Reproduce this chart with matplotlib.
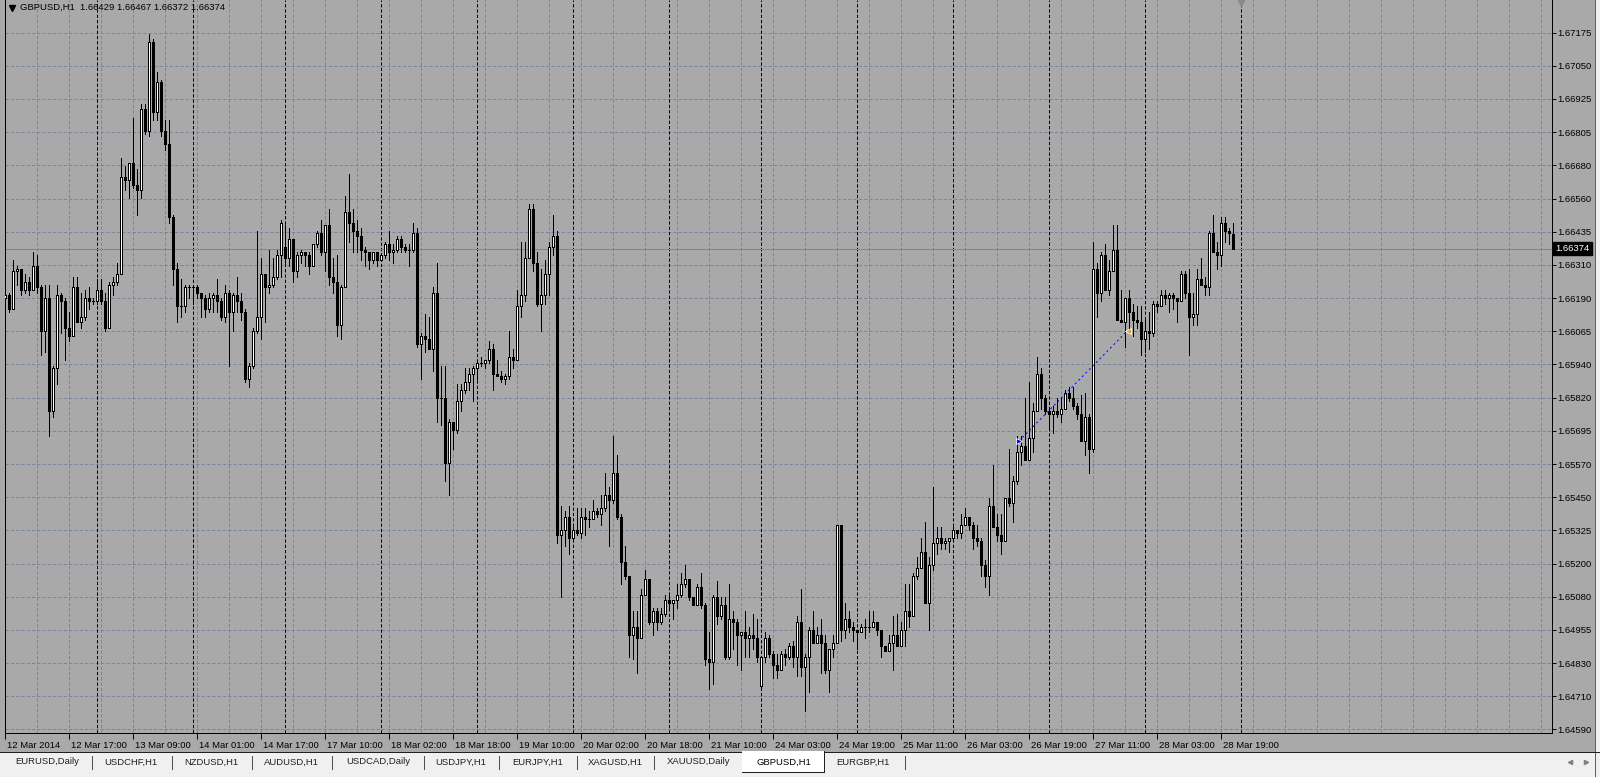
import numpy as np
import matplotlib
matplotlib.use('Agg')
import matplotlib.pyplot as plt
import matplotlib.transforms as mtransforms
from matplotlib.patches import Rectangle
from matplotlib.lines import Line2D

plt.rcParams['font.family'] = ['Liberation Sans', 'DejaVu Sans']

W, H = 1600, 777
BG = '#a9a9a9'
GRID = '#778899'
DASH = (0, (3.3, 2.0))
FS = 6.8

symbol = 'GBPUSD,H1'

# H1 bars, 12 Mar 2014 01:00 .. 28 Mar 2014 22:00
opens = [
    1.6619, 1.6620, 1.6615, 1.6629, 1.6630, 1.6622, 1.6625, 1.6622, 1.6631, 1.6623,
    1.6607, 1.6619, 1.6577, 1.6593, 1.6620, 1.6618, 1.6608, 1.6605, 1.6623, 1.6610,
    1.6612, 1.6619, 1.6618, 1.6618, 1.6622, 1.6618, 1.6608, 1.6624, 1.6625, 1.6628,
    1.6664, 1.6663, 1.6669, 1.6661, 1.6659, 1.6689, 1.6681, 1.6714, 1.6688, 1.6699,
    1.6681, 1.6676, 1.6649, 1.6630, 1.6616, 1.6616, 1.6623, 1.6623, 1.6623, 1.6621,
    1.6619, 1.6615, 1.6619, 1.6620, 1.6618, 1.6612, 1.6621, 1.6614, 1.6620, 1.6618,
    1.6614, 1.6589, 1.6594, 1.6607, 1.6612, 1.6628, 1.6623, 1.6624, 1.6627, 1.6635,
    1.6638, 1.6634, 1.6641, 1.6629, 1.6635, 1.6636, 1.6635, 1.6631, 1.6639, 1.6643,
    1.6636, 1.6646, 1.6627, 1.6625, 1.6609, 1.6623, 1.6651, 1.6647, 1.6644, 1.6642,
    1.6637, 1.6636, 1.6633, 1.6636, 1.6633, 1.6635, 1.6639, 1.6636, 1.6637, 1.6641,
    1.6638, 1.6637, 1.6637, 1.6643, 1.6602, 1.6605, 1.6604, 1.6600, 1.6621, 1.6582,
    1.6582, 1.6558, 1.6573, 1.6570, 1.6581, 1.6585, 1.6588, 1.6591, 1.6593, 1.6595,
    1.6595, 1.6596, 1.6600, 1.6591, 1.6590, 1.6589, 1.6590, 1.6597, 1.6596, 1.6616,
    1.6620, 1.6634, 1.6652, 1.6632, 1.6617, 1.6620, 1.6628, 1.6638, 1.6642, 1.6531,
    1.6533, 1.6538, 1.6530, 1.6533, 1.6532, 1.6538, 1.6537, 1.6537, 1.6540, 1.6539,
    1.6541, 1.6546, 1.6544, 1.6554, 1.6538, 1.6521, 1.6516, 1.6494, 1.6497, 1.6493,
    1.6509, 1.6515, 1.6499, 1.6503, 1.6499, 1.6502, 1.6507, 1.6506, 1.6507, 1.6509,
    1.6513, 1.6515, 1.6508, 1.6505, 1.6512, 1.6505, 1.6485, 1.6484, 1.6508, 1.6501,
    1.6505, 1.6486, 1.6500, 1.6499, 1.6494, 1.6495, 1.6493, 1.6494, 1.6493, 1.6475,
    1.6486, 1.6493, 1.6487, 1.6483, 1.6481, 1.6487, 1.6486, 1.6490, 1.6486, 1.6499,
    1.6482, 1.6486, 1.6496, 1.6491, 1.6494, 1.6491, 1.6481, 1.6489, 1.6491, 1.6535,
    1.6496, 1.6500, 1.6497, 1.6496, 1.6495, 1.6497, 1.6497, 1.6497, 1.6499, 1.6496,
    1.6490, 1.6488, 1.6491, 1.6494, 1.6490, 1.6496, 1.6503, 1.6501, 1.6516, 1.6519,
    1.6525, 1.6506, 1.6520, 1.6528, 1.6530, 1.6528, 1.6529, 1.6530, 1.6533, 1.6532,
    1.6535, 1.6538, 1.6535, 1.6530, 1.6529, 1.6520, 1.6516, 1.6542, 1.6534, 1.6531,
    1.6529, 1.6545, 1.6543, 1.6551, 1.6562, 1.6564, 1.6559, 1.6567, 1.6577, 1.6591,
    1.6582, 1.6577, 1.6576, 1.6577, 1.6576, 1.6578, 1.6584, 1.6582, 1.6579, 1.6576,
    1.6566, 1.6575, 1.6563, 1.6630, 1.6621, 1.6635, 1.6622, 1.6629, 1.6637, 1.6611,
    1.6610, 1.6619, 1.6614, 1.6611, 1.6610, 1.6604, 1.6607, 1.6606, 1.6617, 1.6616,
    1.6620, 1.6619, 1.6620, 1.6619, 1.6618, 1.6628, 1.6621, 1.6612, 1.6613, 1.6626,
    1.6624, 1.6623, 1.6643, 1.6636, 1.6635, 1.6647, 1.6644, 1.66429,
]
highs = [
    1.6621, 1.6621, 1.6633, 1.6631, 1.6630, 1.6628, 1.6627, 1.6636, 1.6635, 1.6624,
    1.6624, 1.6624, 1.6594, 1.6624, 1.6621, 1.6619, 1.6614, 1.6627, 1.6627, 1.6621,
    1.6622, 1.6623, 1.6619, 1.6626, 1.6626, 1.6621, 1.6625, 1.6627, 1.6632, 1.6671,
    1.6668, 1.6669, 1.6686, 1.6667, 1.6691, 1.6691, 1.6717, 1.6715, 1.6703, 1.6700,
    1.6685, 1.6685, 1.6650, 1.6632, 1.6626, 1.6624, 1.6624, 1.6624, 1.6624, 1.6621,
    1.6620, 1.6621, 1.6621, 1.6626, 1.6619, 1.6624, 1.6622, 1.6621, 1.6627, 1.6621,
    1.6615, 1.6595, 1.6608, 1.6644, 1.6634, 1.6628, 1.6637, 1.6634, 1.6637, 1.6648,
    1.6646, 1.6645, 1.6641, 1.6636, 1.6637, 1.6636, 1.6636, 1.6639, 1.6644, 1.6648,
    1.6646, 1.6652, 1.6634, 1.6635, 1.6624, 1.6657, 1.6665, 1.6652, 1.6648, 1.6645,
    1.6638, 1.6636, 1.6636, 1.6636, 1.6635, 1.6640, 1.6644, 1.6639, 1.6642, 1.6642,
    1.6639, 1.6639, 1.6647, 1.6645, 1.6606, 1.6613, 1.6612, 1.6623, 1.6632, 1.6594,
    1.6594, 1.6574, 1.6573, 1.6587, 1.6587, 1.6593, 1.6593, 1.6594, 1.6596, 1.6597,
    1.6596, 1.6603, 1.6602, 1.6596, 1.6592, 1.6591, 1.6607, 1.6600, 1.6622, 1.6640,
    1.6640, 1.6654, 1.6654, 1.6636, 1.6630, 1.6633, 1.6640, 1.6650, 1.6644, 1.6542,
    1.6540, 1.6542, 1.6534, 1.6541, 1.6541, 1.6541, 1.6540, 1.6544, 1.6541, 1.6546,
    1.6554, 1.6549, 1.6568, 1.6561, 1.6539, 1.6527, 1.6516, 1.6503, 1.6503, 1.6511,
    1.6518, 1.6515, 1.6504, 1.6504, 1.6504, 1.6509, 1.6509, 1.6507, 1.6513, 1.6517,
    1.6520, 1.6515, 1.6508, 1.6513, 1.6517, 1.6506, 1.6495, 1.6509, 1.6514, 1.6508,
    1.6508, 1.6513, 1.6503, 1.6500, 1.6495, 1.6503, 1.6497, 1.6502, 1.6500, 1.6486,
    1.6495, 1.6494, 1.6488, 1.6487, 1.6488, 1.6489, 1.6491, 1.6492, 1.6501, 1.6511,
    1.6487, 1.6497, 1.6503, 1.6497, 1.6500, 1.6494, 1.6489, 1.6494, 1.6535, 1.6535,
    1.6506, 1.6503, 1.6499, 1.6496, 1.6498, 1.6500, 1.6503, 1.6503, 1.6499, 1.6496,
    1.6490, 1.6494, 1.6501, 1.6502, 1.6499, 1.6513, 1.6513, 1.6517, 1.6523, 1.6530,
    1.6536, 1.6523, 1.6549, 1.6534, 1.6534, 1.6530, 1.6530, 1.6534, 1.6533, 1.6539,
    1.6541, 1.6538, 1.6536, 1.6535, 1.6530, 1.6522, 1.6545, 1.6557, 1.6539, 1.6539,
    1.6545, 1.6563, 1.6553, 1.6568, 1.6568, 1.6582, 1.6588, 1.6580, 1.6597, 1.6593,
    1.6583, 1.6578, 1.6579, 1.6582, 1.6582, 1.6585, 1.6586, 1.6586, 1.6580, 1.6583,
    1.6584, 1.6576, 1.6640, 1.6632, 1.6636, 1.6639, 1.6633, 1.6646, 1.6646, 1.6622,
    1.6619, 1.6622, 1.6617, 1.6616, 1.6616, 1.6611, 1.6614, 1.6618, 1.6618, 1.6622,
    1.6622, 1.6621, 1.6621, 1.6619, 1.6629, 1.6629, 1.6630, 1.6621, 1.6630, 1.6634,
    1.6627, 1.6644, 1.6650, 1.6640, 1.6649, 1.6649, 1.6645, 1.66467,
]
lows = [
    1.6613, 1.6614, 1.6615, 1.6624, 1.6620, 1.6621, 1.6620, 1.6622, 1.6621, 1.6598,
    1.6599, 1.6568, 1.6575, 1.6587, 1.6606, 1.6596, 1.6603, 1.6605, 1.6610, 1.6608,
    1.6611, 1.6615, 1.6617, 1.6617, 1.6617, 1.6607, 1.6608, 1.6620, 1.6624, 1.6628,
    1.6659, 1.6656, 1.6660, 1.6650, 1.6656, 1.6680, 1.6679, 1.6685, 1.6685, 1.6679,
    1.6674, 1.6647, 1.6624, 1.6610, 1.6612, 1.6614, 1.6619, 1.6617, 1.6619, 1.6612,
    1.6612, 1.6614, 1.6614, 1.6614, 1.6611, 1.6610, 1.6594, 1.6607, 1.6614, 1.6611,
    1.6588, 1.6586, 1.6593, 1.6606, 1.6604, 1.6610, 1.6621, 1.6623, 1.6626, 1.6627,
    1.6631, 1.6631, 1.6625, 1.6627, 1.6632, 1.6631, 1.6628, 1.6631, 1.6638, 1.6635,
    1.6629, 1.6624, 1.6621, 1.6605, 1.6604, 1.6623, 1.6640, 1.6636, 1.6636, 1.6633,
    1.6631, 1.6630, 1.6632, 1.6631, 1.6633, 1.6634, 1.6633, 1.6632, 1.6636, 1.6636,
    1.6636, 1.6631, 1.6636, 1.6601, 1.6589, 1.6599, 1.6600, 1.6592, 1.6573, 1.6572,
    1.6551, 1.6546, 1.6563, 1.6569, 1.6577, 1.6584, 1.6585, 1.6581, 1.6589, 1.6594,
    1.6593, 1.6595, 1.6585, 1.6590, 1.6588, 1.6587, 1.6589, 1.6593, 1.6596, 1.6612,
    1.6618, 1.6634, 1.6629, 1.6616, 1.6607, 1.6617, 1.6620, 1.6635, 1.6528, 1.6508,
    1.6527, 1.6524, 1.6529, 1.6531, 1.6530, 1.6531, 1.6534, 1.6537, 1.6538, 1.6535,
    1.6540, 1.6527, 1.6543, 1.6537, 1.6513, 1.6515, 1.6486, 1.6485, 1.6480, 1.6493,
    1.6509, 1.6498, 1.6494, 1.6496, 1.6498, 1.6501, 1.6504, 1.6500, 1.6504, 1.6508,
    1.6512, 1.6507, 1.6505, 1.6505, 1.6504, 1.6483, 1.6474, 1.6476, 1.6498, 1.6500,
    1.6485, 1.6485, 1.6489, 1.6483, 1.6481, 1.6486, 1.6486, 1.6489, 1.6484, 1.6474,
    1.6484, 1.6486, 1.6478, 1.6478, 1.6481, 1.6483, 1.6485, 1.6482, 1.6479, 1.6479,
    1.6466, 1.6473, 1.6491, 1.6491, 1.6480, 1.6480, 1.6473, 1.6486, 1.6491, 1.6492,
    1.6493, 1.6495, 1.6492, 1.6489, 1.6495, 1.6493, 1.6495, 1.6497, 1.6494, 1.6486,
    1.6488, 1.6488, 1.6481, 1.6490, 1.6490, 1.6490, 1.6497, 1.6501, 1.6515, 1.6519,
    1.6506, 1.6496, 1.6518, 1.6524, 1.6526, 1.6526, 1.6525, 1.6529, 1.6530, 1.6530,
    1.6535, 1.6533, 1.6526, 1.6527, 1.6516, 1.6512, 1.6509, 1.6534, 1.6529, 1.6524,
    1.6529, 1.6542, 1.6536, 1.6550, 1.6557, 1.6559, 1.6559, 1.6562, 1.6577, 1.6578,
    1.6576, 1.6571, 1.6569, 1.6575, 1.6573, 1.6578, 1.6581, 1.6578, 1.6574, 1.6566,
    1.6561, 1.6554, 1.6562, 1.6612, 1.6618, 1.6622, 1.6620, 1.6629, 1.6611, 1.6610,
    1.6601, 1.6606, 1.6605, 1.6608, 1.6598, 1.6599, 1.6600, 1.6605, 1.6614, 1.6616,
    1.6617, 1.6614, 1.6615, 1.6610, 1.6618, 1.6619, 1.6598, 1.6609, 1.6609, 1.6624,
    1.6620, 1.6620, 1.6636, 1.6630, 1.6631, 1.6640, 1.6639, 1.66372,
]
closes = [
    1.6620, 1.6615, 1.6629, 1.6630, 1.6622, 1.6625, 1.6622, 1.6631, 1.6623, 1.6607,
    1.6619, 1.6577, 1.6593, 1.6620, 1.6618, 1.6608, 1.6605, 1.6623, 1.6610, 1.6612,
    1.6619, 1.6618, 1.6618, 1.6622, 1.6618, 1.6608, 1.6624, 1.6625, 1.6628, 1.6664,
    1.6663, 1.6669, 1.6661, 1.6659, 1.6689, 1.6681, 1.6714, 1.6688, 1.6699, 1.6681,
    1.6676, 1.6649, 1.6630, 1.6616, 1.6616, 1.6623, 1.6623, 1.6623, 1.6621, 1.6619,
    1.6615, 1.6619, 1.6620, 1.6618, 1.6612, 1.6621, 1.6614, 1.6620, 1.6618, 1.6614,
    1.6589, 1.6594, 1.6607, 1.6612, 1.6628, 1.6623, 1.6624, 1.6627, 1.6635, 1.6647,
    1.6634, 1.6641, 1.6629, 1.6635, 1.6636, 1.6635, 1.6631, 1.6639, 1.6643, 1.6636,
    1.6646, 1.6627, 1.6625, 1.6609, 1.6623, 1.6651, 1.6647, 1.6644, 1.6642, 1.6637,
    1.6636, 1.6633, 1.6636, 1.6633, 1.6635, 1.6639, 1.6636, 1.6637, 1.6641, 1.6638,
    1.6637, 1.6637, 1.6643, 1.6602, 1.6605, 1.6604, 1.6600, 1.6621, 1.6582, 1.6582,
    1.6558, 1.6573, 1.6570, 1.6581, 1.6585, 1.6588, 1.6591, 1.6593, 1.6595, 1.6595,
    1.6596, 1.6600, 1.6591, 1.6590, 1.6589, 1.6590, 1.6597, 1.6596, 1.6616, 1.6620,
    1.6634, 1.6652, 1.6632, 1.6617, 1.6620, 1.6628, 1.6638, 1.6642, 1.6531, 1.6533,
    1.6538, 1.6530, 1.6533, 1.6532, 1.6538, 1.6537, 1.6537, 1.6540, 1.6539, 1.6541,
    1.6546, 1.6544, 1.6554, 1.6538, 1.6521, 1.6516, 1.6494, 1.6497, 1.6493, 1.6509,
    1.6515, 1.6499, 1.6503, 1.6499, 1.6502, 1.6507, 1.6506, 1.6507, 1.6509, 1.6513,
    1.6515, 1.6508, 1.6505, 1.6512, 1.6505, 1.6485, 1.6484, 1.6508, 1.6501, 1.6505,
    1.6486, 1.6500, 1.6499, 1.6494, 1.6495, 1.6493, 1.6494, 1.6493, 1.6486, 1.6486,
    1.6493, 1.6487, 1.6483, 1.6481, 1.6487, 1.6486, 1.6490, 1.6486, 1.6499, 1.6482,
    1.6486, 1.6496, 1.6491, 1.6494, 1.6491, 1.6481, 1.6489, 1.6491, 1.6535, 1.6496,
    1.6500, 1.6497, 1.6496, 1.6495, 1.6497, 1.6497, 1.6497, 1.6499, 1.6496, 1.6490,
    1.6488, 1.6491, 1.6494, 1.6490, 1.6496, 1.6503, 1.6501, 1.6516, 1.6519, 1.6525,
    1.6506, 1.6520, 1.6528, 1.6530, 1.6528, 1.6529, 1.6530, 1.6533, 1.6532, 1.6535,
    1.6538, 1.6535, 1.6530, 1.6529, 1.6520, 1.6516, 1.6542, 1.6534, 1.6531, 1.6529,
    1.6545, 1.6543, 1.6551, 1.6562, 1.6564, 1.6559, 1.6567, 1.6577, 1.6591, 1.6582,
    1.6577, 1.6576, 1.6577, 1.6576, 1.6578, 1.6584, 1.6582, 1.6579, 1.6576, 1.6566,
    1.6575, 1.6563, 1.6630, 1.6621, 1.6635, 1.6622, 1.6629, 1.6637, 1.6611, 1.6610,
    1.6619, 1.6614, 1.6611, 1.6610, 1.6604, 1.6607, 1.6606, 1.6617, 1.6616, 1.6620,
    1.6619, 1.6620, 1.6619, 1.6618, 1.6628, 1.6621, 1.6612, 1.6613, 1.6626, 1.6624,
    1.6623, 1.6643, 1.6636, 1.6635, 1.6647, 1.6644, 1.6643, 1.66374,
]

time_labels = [
    '12 Mar 2014', '12 Mar 17:00', '13 Mar 09:00', '14 Mar 01:00', '14 Mar 17:00',
    '17 Mar 10:00', '18 Mar 02:00', '18 Mar 18:00', '19 Mar 10:00', '20 Mar 02:00',
    '20 Mar 18:00', '21 Mar 10:00', '24 Mar 03:00', '24 Mar 19:00', '25 Mar 11:00',
    '26 Mar 03:00', '26 Mar 19:00', '27 Mar 11:00', '28 Mar 03:00', '28 Mar 19:00',
]
price_labels = [
    '1.67175', '1.67050', '1.66925', '1.66805', '1.66680', '1.66560', '1.66435',
    '1.66310', '1.66190', '1.66065', '1.65940', '1.65820', '1.65695', '1.65570',
    '1.65450', '1.65325', '1.65200', '1.65080', '1.64955', '1.64830', '1.64710',
    '1.64590',
]
# first bar of each day (period separators)
day_starts = [23, 47, 70, 94, 118, 142, 166, 189, 213, 237, 261, 285, 309]

# the one trade drawn on the chart
entry_bar, entry_price = 253.4, 1.6566
exit_bar, exit_price = 280.6, 1.6607

tabs = ['EURUSD,Daily', 'USDCHF,H1', 'NZDUSD,H1', 'AUDUSD,H1', 'USDCAD,Daily',
        'USDJPY,H1', 'EURJPY,H1', 'XAGUSD,H1', 'XAUUSD,Daily', 'GBPUSD,H1', 'EURGBP,H1']
active_tab = 'GBPUSD,H1'

# ---- layout (pixels) ----
tab_x = [47, 131, 211, 291, 378, 461, 538, 615, 699, 784, 863]
tab_seps = [92, 172, 251.5, 331.5, 423.5, 499, 576.5, 654, 904.5]
active_box = (742, 824.5)

o = np.array(opens)
h = np.array(highs)
l = np.array(lows)
c = np.array(closes)
x = np.arange(len(c))

fig = plt.figure(figsize=(W / 100, H / 100), dpi=100, facecolor=BG)
ax = fig.add_axes([5 / W, (H - 733) / H, 1547 / W, 733 / H])
ax.set_facecolor(BG)
ymin, ymax = 1.64577, 1.67296
ax.set_xlim(-0.08, 386.67)
ax.set_ylim(ymin, ymax)

# grid
price_levels = np.linspace(float(price_labels[0]), float(price_labels[-1]), len(price_labels))
for p in price_levels:
    ax.axhline(p, color=GRID, lw=0.72, ls=DASH, zorder=1)
for gx in range(8, 387, 8):
    ax.axvline(gx, color=GRID, lw=0.72, ls=DASH, zorder=1)
for d in day_starts:
    ax.axvline(d, color='black', lw=0.72, ls=DASH, zorder=1.5)

# current price line
ax.axhline(c[-1], color=GRID, lw=0.72, zorder=1.6)

# candles
ax.vlines(x, l, h, color='black', lw=0.72, zorder=2, antialiased=False)
fill = ['white' if cc >= oo else 'black' for oo, cc in zip(o, c)]
ax.bar(x, c - o, bottom=o, width=0.5, color=fill, edgecolor='black',
       linewidth=0.72, zorder=3, antialiased=False)

# trade
ax.plot([entry_bar, exit_bar], [entry_price, exit_price], color='blue', lw=0.72,
        ls=(0, (2, 3)), zorder=4)
ax.plot(entry_bar, entry_price, marker='>', ms=5, color='blue', mec='white', mew=0.6, zorder=5)
ax.plot(exit_bar, exit_price, marker='<', ms=5, color='#e0a020', mec='white', mew=0.6, zorder=5)

# chart shift marker (top edge)
shift_tr = mtransforms.offset_copy(ax.transData, fig=fig, x=0, y=-3, units='dots')
ax.plot(day_starts[-1], ymax, marker='v', ms=5, color='#8a8a8a', clip_on=False,
        transform=shift_tr, zorder=6)

# axes / ticks
for s in ['left', 'right', 'bottom']:
    ax.spines[s].set_color('black')
    ax.spines[s].set_linewidth(0.72)
ax.spines['top'].set_visible(False)

ax.set_yticks(price_levels)
ax.set_yticklabels(price_labels)
ax.yaxis.tick_right()
ax.tick_params(axis='y', direction='out', length=3, width=0.72, pad=0.8, labelsize=FS)

ax.set_xticks(np.arange(0, 16 * len(time_labels), 16))
ax.set_xticklabels(time_labels, ha='left')
ax.tick_params(axis='x', direction='out', length=4, width=0.72, pad=1.5, labelsize=FS)
shift = mtransforms.ScaledTranslation(1.5 / 100, 0, fig.dpi_scale_trans)
for lbl in ax.get_xticklabels():
    lbl.set_transform(lbl.get_transform() + shift)

# current price box
box_tr = mtransforms.offset_copy(ax.get_yaxis_transform(), fig=fig, x=3.5, y=0, units='dots')
ax.text(1.0, c[-1], f'{c[-1]:.5f}', transform=box_tr, ha='left', va='center', fontsize=FS,
        color='white', bbox=dict(boxstyle='square,pad=0.22', fc='black', ec='black'), zorder=7)

# header
fig.add_artist(Line2D([12 / W], [1 - 8 / H], marker='v', ms=4.5, color='black',
                      transform=fig.transFigure))
fig.text(20.5 / W, 1 - 7.5 / H,
         f'{symbol}  {o[-1]:.5f} {h[-1]:.5f} {l[-1]:.5f} {c[-1]:.5f}',
         fontsize=FS, ha='left', va='center')

# right window border
fig.patches.append(Rectangle((1595 / W, 0), 5 / W, 1, transform=fig.transFigure,
                             fc='#f0f0f0', ec='none', zorder=0))
fig.add_artist(Line2D([1594.5 / W] * 2, [0, 1], color='#606060', lw=0.72,
                      transform=fig.transFigure))

# tab bar
fig.patches.append(Rectangle((0, 0), 1, (H - 752) / H, transform=fig.transFigure,
                             fc='#f0f0f0', ec='none', zorder=1))
fig.add_artist(Line2D([0, 1], [1 - 752 / H] * 2, color='#202020', lw=0.72,
                      transform=fig.transFigure))
x0, x1 = active_box
fig.patches.append(Rectangle((x0 / W, 1 - 772 / H), (x1 - x0) / W, 21 / H,
                             transform=fig.transFigure, fc='white', ec='none', zorder=2))
for xs, ys in [([x0, x0], [751, 772]), ([x1, x1], [751, 772]), ([x0, x1], [772, 772])]:
    fig.add_artist(Line2D([v / W for v in xs], [1 - v / H for v in ys], color='#202020',
                          lw=0.72, transform=fig.transFigure))
for sx in tab_seps:
    fig.add_artist(Line2D([sx / W] * 2, [1 - 756 / H, 1 - 769 / H], color='#505050',
                          lw=0.72, transform=fig.transFigure))
for name, tx in zip(tabs, tab_x):
    fig.text(tx / W, 1 - 762 / H, name, fontsize=FS, ha='center', va='center',
             color='black' if name == active_tab else '#202020', zorder=5)
for mx, mk in [(1570, '<'), (1586, '>')]:
    fig.add_artist(Line2D([mx / W], [1 - 762 / H], marker=mk, ms=3, color='#808080',
                          transform=fig.transFigure))

fig.savefig('out.png', dpi=100, facecolor=BG)
